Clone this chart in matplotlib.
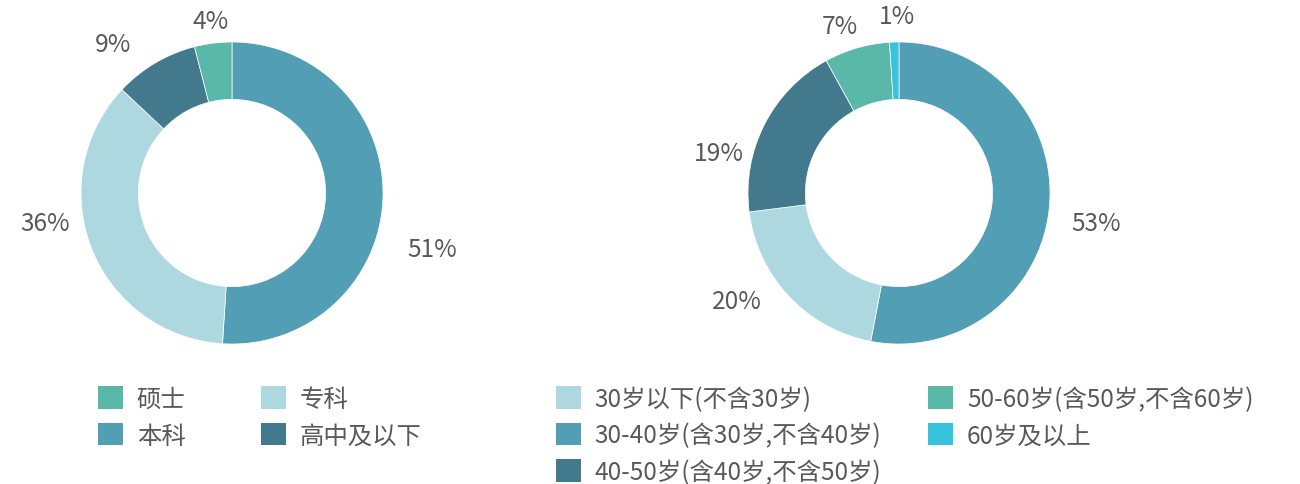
import numpy as np
import matplotlib.pyplot as plt
from matplotlib.patches import Patch

plt.rcParams['font.family'] = ['Noto Sans CJK SC', 'DejaVu Sans']

# education (legend order)
edu_labels = ['硕士', '本科', '专科', '高中及以下']
edu_share = [4, 51, 36, 9]
edu_colors = ['#5AB8A9', '#519EB5', '#ADD8E0', '#43798C']
edu_order = [1, 2, 3, 0]   # clockwise from 12 o'clock

# age groups (legend order)
age_labels = ['30岁以下(不含30岁)', '30-40岁(含30岁,不含40岁)', '40-50岁(含40岁,不含50岁)',
              '50-60岁(含50岁,不含60岁)', '60岁及以上']
age_share = [20, 53, 19, 7, 1]
age_colors = ['#ADD8E0', '#519EB5', '#43798C', '#5AB8A9', '#35C4DC']
age_order = [1, 0, 2, 3, 4]

W, H = 1300, 485
TXT = '#595959'
FS = 17.6

fig = plt.figure(figsize=(W / 100, H / 100), dpi=100)


def donut(cx, cy, R, shares, colors, order, nudge, lrad):
    span = 1.6
    ax = fig.add_axes([(cx - span * R) / W, (H - cy - span * R) / H,
                       2 * span * R / W, 2 * span * R / H])
    vals = [shares[i] for i in order]
    cols = [colors[i] for i in order]
    wedges, _ = ax.pie(vals, colors=cols, startangle=90, counterclock=False, radius=1,
                       wedgeprops=dict(width=0.38, edgecolor='white', linewidth=0.5))
    ax.set_xlim(-span, span)
    ax.set_ylim(-span, span)
    ax.axis('off')
    # label placement follows the original (hand-nudged around each slice)
    for w, v, d, r in zip(wedges, vals, nudge, lrad):
        a = np.deg2rad((w.theta1 + w.theta2) / 2 + d)
        ax.text(r * np.cos(a), r * np.sin(a), f'{v}%', ha='center', va='center',
                fontsize=FS, color=TXT)
    return ax


donut(232, 194, 151, edu_share, edu_colors, edu_order,
      nudge=[-13.8, -12.5, 8, 0], lrad=[1.375, 1.254, 1.26, 1.15])
donut(899, 194, 151, age_share, age_colors, age_order,
      nudge=[-3.4, -9.5, 14.6, 3.2, -1], lrad=[1.32, 1.29, 1.22, 1.17, 1.17])

common = dict(ncol=2, loc='upper left', frameon=False, fontsize=FS, handlelength=1.03,
              handleheight=1.03, handletextpad=0.55, labelspacing=0.43, borderpad=0,
              borderaxespad=0, labelcolor=TXT)
fig.legend([Patch(facecolor=c, edgecolor='none') for c in edu_colors], edu_labels,
           bbox_to_anchor=(98 / W, 1 - 387 / H), columnspacing=3.09, **common)
fig.legend([Patch(facecolor=c, edgecolor='none') for c in age_colors], age_labels,
           bbox_to_anchor=(556 / W, 1 - 387 / H), columnspacing=1.92, **common)

fig.savefig('out.png', dpi=100)
